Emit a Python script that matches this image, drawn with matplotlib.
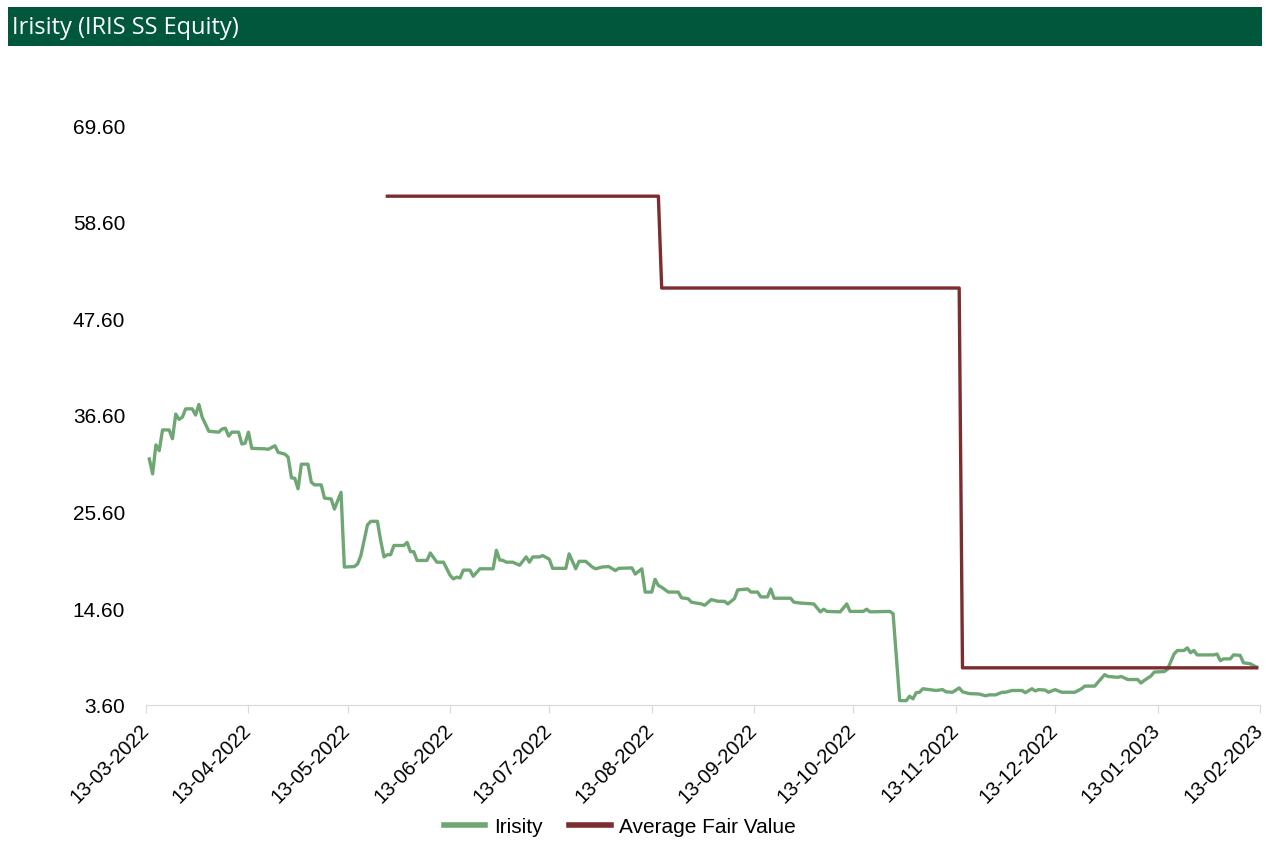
import matplotlib
matplotlib.use("Agg")
import matplotlib.pyplot as plt
import matplotlib.dates as mdates
import matplotlib.transforms as mtrans
from matplotlib.patches import Rectangle
import pandas as pd

plt.rcParams['font.family'] = ['Liberation Sans', 'DejaVu Sans']

# share price
price_dates = [
    '2022-03-14', '2022-03-15', '2022-03-16', '2022-03-17', '2022-03-18', '2022-03-20',
    '2022-03-21', '2022-03-22', '2022-03-23', '2022-03-24', '2022-03-25', '2022-03-27',
    '2022-03-28', '2022-03-29', '2022-03-30', '2022-04-01', '2022-04-04', '2022-04-05',
    '2022-04-06', '2022-04-07', '2022-04-08', '2022-04-10', '2022-04-11', '2022-04-12',
    '2022-04-13', '2022-04-14', '2022-04-18', '2022-04-19', '2022-04-21', '2022-04-22',
    '2022-04-24', '2022-04-25', '2022-04-26', '2022-04-27', '2022-04-28', '2022-04-29',
    '2022-05-01', '2022-05-02', '2022-05-03', '2022-05-05', '2022-05-06', '2022-05-08',
    '2022-05-09', '2022-05-11', '2022-05-12', '2022-05-15', '2022-05-16', '2022-05-17',
    '2022-05-19', '2022-05-20', '2022-05-22', '2022-05-23', '2022-05-24', '2022-05-25',
    '2022-05-26', '2022-05-27', '2022-05-30', '2022-05-31', '2022-06-01', '2022-06-02',
    '2022-06-03', '2022-06-06', '2022-06-07', '2022-06-09', '2022-06-11', '2022-06-13',
    '2022-06-14', '2022-06-15', '2022-06-16', '2022-06-17', '2022-06-19', '2022-06-20',
    '2022-06-22', '2022-06-26', '2022-06-27', '2022-06-28', '2022-06-29', '2022-06-30',
    '2022-07-02', '2022-07-04', '2022-07-06', '2022-07-07', '2022-07-08', '2022-07-10',
    '2022-07-11', '2022-07-13', '2022-07-14', '2022-07-18', '2022-07-19', '2022-07-21',
    '2022-07-22', '2022-07-24', '2022-07-26', '2022-07-27', '2022-07-29', '2022-07-31',
    '2022-08-02', '2022-08-03', '2022-08-07', '2022-08-08', '2022-08-10', '2022-08-11',
    '2022-08-13', '2022-08-14', '2022-08-15', '2022-08-16', '2022-08-18', '2022-08-21',
    '2022-08-22', '2022-08-24', '2022-08-25', '2022-08-28', '2022-08-29', '2022-08-31',
    '2022-09-02', '2022-09-04', '2022-09-05', '2022-09-07', '2022-09-08', '2022-09-11',
    '2022-09-12', '2022-09-14', '2022-09-15', '2022-09-17', '2022-09-18', '2022-09-19',
    '2022-09-24', '2022-09-25', '2022-09-27', '2022-10-01', '2022-10-03', '2022-10-04',
    '2022-10-05', '2022-10-09', '2022-10-11', '2022-10-12', '2022-10-16', '2022-10-17',
    '2022-10-18', '2022-10-24', '2022-10-25', '2022-10-27', '2022-10-29', '2022-10-30',
    '2022-10-31', '2022-11-01', '2022-11-02', '2022-11-03', '2022-11-05', '2022-11-07',
    '2022-11-09', '2022-11-10', '2022-11-12', '2022-11-14', '2022-11-15', '2022-11-17',
    '2022-11-20', '2022-11-22', '2022-11-23', '2022-11-25', '2022-11-27', '2022-11-28',
    '2022-11-30', '2022-12-03', '2022-12-04', '2022-12-06', '2022-12-07', '2022-12-08',
    '2022-12-10', '2022-12-11', '2022-12-13', '2022-12-15', '2022-12-19', '2022-12-21',
    '2022-12-22', '2022-12-25', '2022-12-26', '2022-12-28', '2022-12-29', '2023-01-01',
    '2023-01-02', '2023-01-04', '2023-01-07', '2023-01-08', '2023-01-09', '2023-01-11',
    '2023-01-12', '2023-01-15', '2023-01-16', '2023-01-18', '2023-01-19', '2023-01-21',
    '2023-01-22', '2023-01-23', '2023-01-24', '2023-01-25', '2023-01-30', '2023-01-31',
    '2023-02-01', '2023-02-02', '2023-02-04', '2023-02-05', '2023-02-07', '2023-02-08',
    '2023-02-10', '2023-02-12',
]
price_values = [
    31.6, 29.9, 33.2, 32.55, 34.9, 34.9,
    33.9, 36.7, 36.1, 36.35, 37.3, 37.3,
    36.6, 37.8, 36.35, 34.75, 34.65, 35.0,
    35.1, 34.2, 34.65, 34.65, 33.3, 33.4,
    34.65, 32.8, 32.75, 32.7, 33.1, 32.35,
    32.15, 31.8, 29.45, 29.4, 28.2, 31.0,
    31.0, 28.95, 28.65, 28.65, 27.15, 27.05,
    25.9, 27.8, 19.3, 19.35, 19.65, 20.6,
    24.1, 24.5, 24.5, 22.3, 20.45, 20.7,
    20.7, 21.75, 21.75, 22.1, 21.05, 21.05,
    20.05, 20.05, 20.9, 19.85, 19.85, 18.35,
    17.95, 18.15, 18.05, 18.95, 18.95, 18.25,
    19.1, 19.1, 21.2, 20.1, 20.05, 19.85,
    19.85, 19.5, 20.45, 19.85, 20.45, 20.45,
    20.6, 20.2, 19.15, 19.15, 20.8, 19.1,
    19.95, 19.95, 19.3, 19.1, 19.3, 19.35,
    18.9, 19.15, 19.2, 18.5, 19.1, 16.45,
    16.45, 17.9, 17.2, 17.0, 16.45, 16.45,
    15.8, 15.7, 15.3, 15.1, 14.95, 15.6,
    15.4, 15.4, 15.1, 15.7, 16.7, 16.8,
    16.45, 16.45, 15.9, 15.9, 16.8, 15.75,
    15.75, 15.3, 15.2, 15.1, 14.2, 14.5,
    14.25, 14.2, 15.1, 14.25, 14.25, 14.5,
    14.2, 14.25, 14.0, 4.1, 4.1, 4.6,
    4.3, 5.0, 5.05, 5.45, 5.35, 5.25,
    5.35, 5.1, 5.05, 5.55, 5.1, 4.9,
    4.85, 4.65, 4.75, 4.75, 5.05, 5.05,
    5.25, 5.25, 5.0, 5.45, 5.2, 5.35,
    5.3, 5.05, 5.35, 5.05, 5.05, 5.45,
    5.75, 5.75, 6.2, 7.05, 6.85, 6.75,
    6.85, 6.5, 6.5, 6.1, 6.4, 6.9,
    7.35, 7.4, 7.65, 9.4, 9.8, 9.8,
    10.1, 9.55, 9.8, 9.3, 9.3, 9.4,
    8.65, 8.85, 8.85, 9.3, 9.25, 8.4,
    8.3, 7.9,
]

# average fair value
fair_dates = ['2022-05-25', '2022-08-15', '2022-08-16', '2022-11-14', '2022-11-15', '2023-02-12']
fair_values = [61.5, 61.5, 51.05, 51.05, 7.83, 7.83]

tick_dates = pd.date_range('2022-03-13', periods=12, freq=pd.DateOffset(months=1))
y_ticks = [3.6, 14.6, 25.6, 36.6, 47.6, 58.6, 69.6]

title = 'Irisity (IRIS SS Equity)'
green = '#6fa774'
maroon = '#7b2d2f'
header = '#00573b'

W, H = 1266, 845
fig = plt.figure(figsize=(W / 100, H / 100), dpi=100)

# header bar
fig.patches.append(Rectangle((8 / W, 1 - 47 / H), 1254 / W, 39 / H, transform=fig.transFigure,
                             facecolor=header, edgecolor='none'))
fig.text(12 / W, 1 - 28 / H, title, color='white', fontsize=17, va='center', ha='left',
         family=['Open Sans', 'DejaVu Sans'])

ax = fig.add_axes([146 / W, 1 - 706 / H, 1114 / W, 580 / H])
ax.plot(pd.to_datetime(price_dates), price_values, color=green, lw=2.4, label='Irisity',
        solid_joinstyle='round')
ax.plot(pd.to_datetime(fair_dates), fair_values, color=maroon, lw=2.4, label='Average Fair Value')

ax.set_xlim(pd.Timestamp('2022-03-13'), pd.Timestamp('2023-02-13'))
ax.set_ylim(3.6, 69.6)
ax.set_yticks(y_ticks)
ax.set_yticklabels(['%.2f' % v for v in y_ticks])
ax.set_xticks(tick_dates)
ax.xaxis.set_major_formatter(mdates.DateFormatter('%d-%m-%Y'))

for s in ['top', 'right', 'left']:
    ax.spines[s].set_visible(False)
ax.spines['bottom'].set_color('#d9d9d9')
ax.tick_params(axis='y', length=0, pad=15, labelsize=15)
ax.tick_params(axis='x', length=6, color='#d9d9d9', labelsize=14.5, pad=5)

# rotated date labels, nudged left so the top-right corner sits at the tick
shift = mtrans.ScaledTranslation(-7 / 100, 0, fig.dpi_scale_trans)
for lab in ax.get_xticklabels():
    lab.set_rotation(45)
    lab.set_ha('right')
    lab.set_rotation_mode('anchor')
    lab.set_transform(lab.get_transform() + shift)

fig.legend(loc='center', bbox_to_anchor=(620 / W, 1 - 828 / H), ncol=2, frameon=False,
           fontsize=15, handlelength=2.0, columnspacing=1.3, handletextpad=0.4)
for l in fig.legends[0].get_lines():
    l.set_linewidth(4)

fig.savefig('out.png', dpi=100)
